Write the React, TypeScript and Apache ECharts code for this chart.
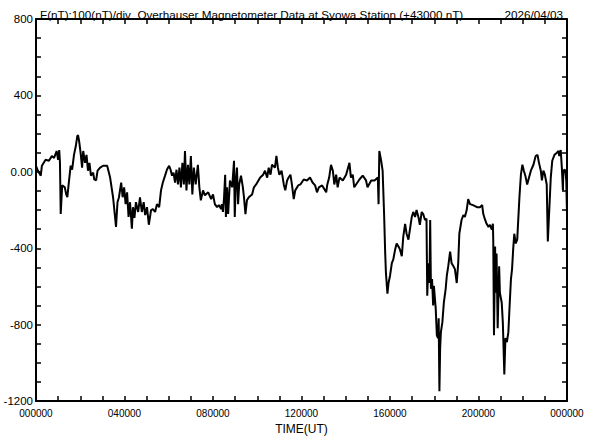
import React, { useEffect, useRef } from "react";
import * as echarts from "echarts";

const TITLE = "F(nT):100(nT)/div  Overhauser Magnetometer Data at Syowa Station (+43000 nT)";
const DATE_TEXT = "2026/04/03";
const X_LABEL = "TIME(UT)";

// [minutes UT, nT] samples
const seg00to06: [number, number][] = [
  [0, 32], [4, 11], [13, -20], [16, 32], [26, 63], [35, 58], [43, 83], [49, 73], [56, 109], [60, 63],
  [63, 114], [65, 47], [67, -221], [71, -71], [78, -81], [82, -118], [85, -133], [89, -56], [94, 32], [98, 11],
  [103, 89], [108, 135], [112, 187], [114, 192], [117, 161], [121, 99], [125, 22], [128, 109], [133, 47], [137, 89],
  [141, 6], [145, 47], [149, -20], [155, -4], [158, -40], [163, -45], [167, 6], [174, 22], [182, 32], [193, 32],
  [201, -30], [209, -133], [217, -288], [221, -159], [225, -133], [231, -56], [235, -133], [239, -81], [243, -169], [247, -107],
  [251, -236], [255, -159], [260, -298], [263, -185], [267, -241], [271, -159], [277, -210], [282, -133], [287, -210], [292, -159],
  [296, -226], [301, -185], [306, -277], [312, -200], [317, -195], [323, -210], [328, -169], [334, -185], [339, -97], [344, -56],
  [350, -20], [355, 11],
];
const seg06to12: [number, number][] = [
  [361, 32], [365, 11], [369, -20], [373, -4], [377, -56], [381, 11], [385, -66], [389, 22], [393, -81], [397, 47],
  [401, -66], [404, 109], [408, -97], [412, 37], [416, -66], [420, 83], [424, -118], [428, 22], [433, -66], [439, 37],
  [443, -81], [447, -149], [453, -97], [458, -123], [467, -107], [475, -143], [480, -118], [485, -169], [491, -185], [496, -174],
  [502, -195], [504, -169], [507, -210], [510, -133], [513, -15], [515, -236], [518, -81], [521, -221], [526, -45], [532, -81],
  [537, 58], [539, -236], [542, -45], [545, 22], [548, -169], [551, -66], [556, -20], [561, -81], [564, -133], [568, -221],
  [572, -149], [577, -133], [586, -118], [591, -81], [597, -66], [608, -30], [616, -15], [621, 6], [627, -30], [631, 22],
  [636, -15], [640, 37], [648, 22], [652, 83], [656, 22], [660, -15], [666, 6], [672, -66], [676, -97], [681, -45],
  [685, -30], [690, -15], [694, -66], [699, -143], [703, -97], [711, -71], [717, -66],
];
const seg12to18: [number, number][] = [
  [726, -40], [735, -45], [743, -30], [750, -56], [757, -71], [762, -107], [767, -81], [776, -71], [787, -107], [790, -66],
  [795, -30], [800, 37], [805, 6], [809, -66], [814, -15], [818, -81], [823, -30], [832, -45], [841, -15], [850, 47],
  [854, -30], [859, -15], [863, -81], [868, -66], [877, -40], [886, -20], [895, -45], [899, -81], [909, -45], [918, -45],
  [927, -30], [929, -169], [931, 109], [936, 58], [940, 6], [944, -221], [947, -427], [949, -530], [953, -638], [956, -582],
  [960, -545], [965, -478], [969, -458], [974, -406], [978, -375], [983, -391], [987, -406], [992, -442], [996, -339], [1001, -272],
  [1005, -324], [1010, -355], [1014, -303], [1019, -236], [1023, -210], [1028, -236], [1032, -200], [1037, -236], [1041, -277], [1046, -210],
  [1050, -221], [1055, -252], [1059, -246], [1061, -649], [1064, -478], [1067, -582], [1069, -252], [1071, -612], [1074, -561], [1077, -700],
  [1079, -597],
];
const seg18to24: [number, number][] = [
  [1084, -716], [1087, -855], [1090, -870], [1092, -767], [1094, -1149], [1096, -922], [1098, -839], [1102, -788], [1106, -685], [1111, -612],
  [1114, -545], [1118, -494], [1123, -417], [1127, -478], [1132, -494], [1136, -509], [1141, -582], [1145, -478], [1148, -324], [1154, -252],
  [1159, -226], [1163, -236], [1168, -200], [1172, -143], [1177, -169], [1185, -174], [1196, -185], [1204, -185], [1210, -174], [1213, -221],
  [1218, -252], [1222, -272], [1227, -288], [1231, -277], [1236, -303], [1239, -272], [1240, -355], [1242, -855], [1245, -391], [1247, -633],
  [1249, -427], [1252, -819], [1256, -494], [1258, -633], [1263, -685], [1266, -788], [1267, -855], [1270, -1061], [1273, -870], [1277, -891],
  [1281, -839], [1284, -716], [1288, -561], [1291, -509], [1294, -406], [1297, -324], [1301, -375], [1305, -355], [1311, -133], [1315, -15],
  [1319, 37], [1323, 6], [1327, -20], [1332, -66], [1337, -30], [1342, 6], [1349, 37], [1355, 83], [1360, 89], [1364, 47],
  [1369, 6], [1372, -45], [1376, 6], [1380, -15], [1385, -66], [1388, -365], [1391, -236], [1396, -30], [1400, 58], [1406, 89],
  [1412, 99], [1417, 109], [1419, 83], [1423, 114], [1426, 22], [1429, -97], [1430, 6], [1435, 11], [1438, -45], [1440, -221],
];

const FONT = "'Liberation Sans', Arial, Helvetica, sans-serif";

export default function App() {
  const ref = useRef<HTMLDivElement>(null);
  useEffect(() => {
    if (!ref.current) return;
    const chart = echarts.init(ref.current, null, { renderer: "svg" });
    const data = [...seg00to06, ...seg06to12, ...seg12to18, ...seg18to24];
    const axisLine = { show: true, onZero: false, lineStyle: { color: "#000", width: 2 } };
    const tick = { show: true, inside: true, length: 5, lineStyle: { color: "#000", width: 1.5 } };
    const xFmt = (v: number) => {
      if (v % 240 !== 0) return "";
      const h = Math.round(v / 60) % 24;
      return (h < 10 ? "0" + h : String(h)) + "0000";
    };
    const yFmt = (v: number) => {
      if (v % 400 !== 0) return "";
      return v === 0 ? "0.00" : String(v);
    };
    chart.setOption({
      animation: false,
      backgroundColor: "#fff",
      textStyle: { fontFamily: FONT },
      title: [
        { text: TITLE, left: 35, top: 3, textStyle: { fontSize: 11.7, fontWeight: "normal", color: "#000", fontFamily: FONT } },
        { text: DATE_TEXT, right: 24, top: 3, textStyle: { fontSize: 11.7, fontWeight: "normal", color: "#000", fontFamily: FONT } },
      ],
      grid: { left: 36, right: 25, top: 19, bottom: 34, show: false },
      xAxis: [
        {
          type: "value", min: 0, max: 1440, interval: 60, position: "bottom",
          name: X_LABEL, nameLocation: "middle", nameGap: 18,
          nameTextStyle: { fontSize: 12, color: "#000", fontFamily: FONT },
          axisLine, axisTick: tick,
          axisLabel: { formatter: xFmt, fontSize: 10, color: "#000", margin: 7, fontFamily: FONT, showMinLabel: true, showMaxLabel: true },
          splitLine: { show: false },
        },
        {
          type: "value", min: 0, max: 1440, interval: 60, position: "top",
          axisLine, axisTick: tick, axisLabel: { show: false }, splitLine: { show: false },
        },
      ],
      yAxis: [
        {
          type: "value", min: -1200, max: 800, interval: 100, position: "left",
          axisLine, axisTick: tick,
          axisLabel: { formatter: yFmt, fontSize: 11.5, color: "#000", margin: 3, fontFamily: FONT, showMinLabel: true, showMaxLabel: true },
          splitLine: { show: false },
        },
        {
          type: "value", min: -1200, max: 800, interval: 100, position: "right",
          axisLine, axisTick: tick, axisLabel: { show: false }, splitLine: { show: false },
        },
      ],
      series: [
        {
          type: "line", xAxisIndex: 0, yAxisIndex: 0, data, showSymbol: false, symbol: "none",
          lineStyle: { color: "#000", width: 2 }, z: 1,
        },
      ],
    });
    return () => chart.dispose();
  }, []);
  return <div ref={ref} style={{ width: 592, height: 440, position: "absolute", left: 0, top: 0 }} />;
}
